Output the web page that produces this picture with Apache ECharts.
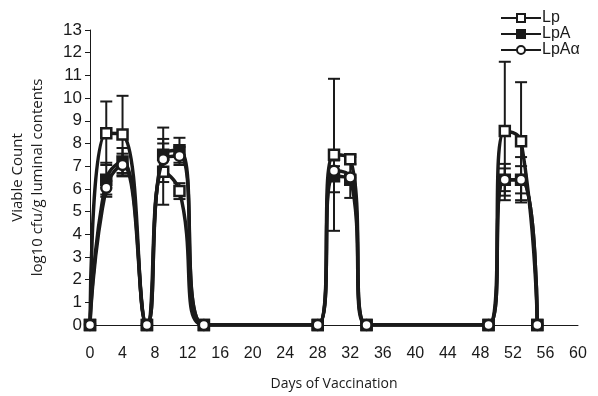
<!DOCTYPE html>
<html>
<head>
<meta charset="utf-8">
<script src="https://cdn.jsdelivr.net/npm/echarts@6/dist/echarts.min.js"></script>
<style>
  html, body { margin: 0; padding: 0; background: #fff; }
  #chart { width: 598px; height: 396px; }
</style>
</head>
<body>
<div id="chart"></div>
<script>
// days sampled
var days = [0, 2, 4, 7, 9, 11, 14, 28, 30, 32, 34, 49, 51, 53, 55];
// mean viable counts (log10 cfu/g)
var lp     = [0, 8.45, 8.4, 0, 6.75, 5.9, 0, 0, 7.5, 7.3, 0, 0, 8.55, 8.1, 0];
var lpA    = [0, 6.4, 7.2, 0, 7.5, 7.7, 0, 0, 6.55, 6.4, 0, 0, 6.4, 6.4, 0];
var lpAa   = [0, 6.05, 7.05, 0, 7.3, 7.45, 0, 0, 6.8, 6.5, 0, 0, 6.4, 6.4, 0];
// standard deviations (error bars)
var lpSd   = [0, 1.4, 1.7, 0, 1.45, 0.35, 0, 0, 3.35, 0.2, 0, 0, 3.05, 2.6, 0];
var lpASd  = [0, 0.75, 0.6, 0, 1.2, 0.55, 0, 0, 0.7, 0.2, 0, 0, 0.7, 1.0, 0];
var lpAaSd = [0, 0.3, 0.5, 0, 0.7, 0.4, 0, 0, 0.2, 0.9, 0, 0, 0.5, 0.6, 0];

var yTicks = [0, 1, 2, 3, 4, 5, 6, 7, 8, 9, 10, 11, 12, 13];

var ARIAL = 'Liberation Sans';
var MYRIAD = 'Open Sans';

function pairs(vals) {
  return days.map(function (d, i) { return [d, vals[i]]; });
}
function bars(vals, sd) {
  var out = [];
  days.forEach(function (d, i) {
    if (sd[i] > 0) out.push([d, vals[i] - sd[i], vals[i] + sd[i]]);
  });
  return out;
}

function renderBar(params, api) {
  var x = api.value(0);
  var lo = api.coord([x, api.value(1)]);
  var hi = api.coord([x, api.value(2)]);
  var w = 6;
  var st = { stroke: '#1a1a1a', lineWidth: 2 };
  return {
    type: 'group',
    children: [
      { type: 'line', shape: { x1: lo[0], y1: lo[1], x2: hi[0], y2: hi[1] }, style: st },
      { type: 'line', shape: { x1: hi[0] - w, y1: hi[1], x2: hi[0] + w, y2: hi[1] }, style: st },
      { type: 'line', shape: { x1: lo[0] - w, y1: lo[1], x2: lo[0] + w, y2: lo[1] }, style: st }
    ]
  };
}

var chart = echarts.init(document.getElementById('chart'));
var lineStyle = { color: '#1a1a1a', width: 3.5 };

var option = {
  animation: false,
  grid: { left: 88, right: 20, top: 30, bottom: 71 },
  legend: {
    orient: 'vertical',
    left: 495,
    top: 5,
    itemGap: 0,
    itemWidth: 40,
    itemHeight: 10,
    textStyle: { fontSize: 16, color: '#1a1a1a', fontFamily: ARIAL, padding: [0, 0, 0, -4] },
    data: ['Lp', 'LpA', 'LpAα']
  },
  xAxis: {
    type: 'value',
    min: 0, max: 60, interval: 4,
    name: 'Days of Vaccination',
    nameLocation: 'middle',
    nameGap: 52,
    nameTextStyle: { fontSize: 14, color: '#1a1a1a', fontFamily: MYRIAD },
    axisLine: { lineStyle: { color: '#1a1a1a', width: 1 } },
    axisTick: { show: false },
    axisLabel: { fontSize: 16, color: '#1a1a1a', fontFamily: ARIAL, margin: 21 },
    splitLine: { show: false }
  },
  yAxis: {
    type: 'value',
    min: yTicks[0], max: yTicks[yTicks.length - 1], interval: 1,
    name: 'Viable Count\nlog10 cfu/g luminal contents',
    nameLocation: 'middle',
    nameGap: 42,
    nameTextStyle: { fontSize: 15, color: '#1a1a1a', lineHeight: 20, fontFamily: MYRIAD },
    axisLine: { show: true, lineStyle: { color: '#1a1a1a', width: 1 } },
    axisTick: { show: true, inside: false, length: 5, lineStyle: { color: '#1a1a1a' } },
    axisLabel: { fontSize: 17, color: '#1a1a1a', fontFamily: ARIAL, margin: 8 },
    splitLine: { show: false }
  },
  series: [
    { type: 'custom', renderItem: renderBar, data: bars(lp, lpSd), z: 1, silent: true },
    { type: 'custom', renderItem: renderBar, data: bars(lpA, lpASd), z: 1, silent: true },
    { type: 'custom', renderItem: renderBar, data: bars(lpAa, lpAaSd), z: 1, silent: true },
    {
      name: 'Lp', type: 'line', smooth: 0.5, data: pairs(lp), z: 3,
      symbol: 'rect', symbolSize: 10,
      lineStyle: lineStyle,
      itemStyle: { color: '#fff', borderColor: '#1a1a1a', borderWidth: 2.5 }
    },
    {
      name: 'LpA', type: 'line', smooth: 0.5, data: pairs(lpA), z: 2,
      symbol: 'rect', symbolSize: 10,
      lineStyle: lineStyle,
      itemStyle: { color: '#1a1a1a', borderColor: '#1a1a1a', borderWidth: 2.5 }
    },
    {
      name: 'LpAα', type: 'line', smooth: 0.5, data: pairs(lpAa), z: 4,
      symbol: 'circle', symbolSize: 10,
      lineStyle: lineStyle,
      itemStyle: { color: '#fff', borderColor: '#1a1a1a', borderWidth: 2.5 }
    }
  ]
};
chart.setOption(option);
</script>
</body>
</html>
